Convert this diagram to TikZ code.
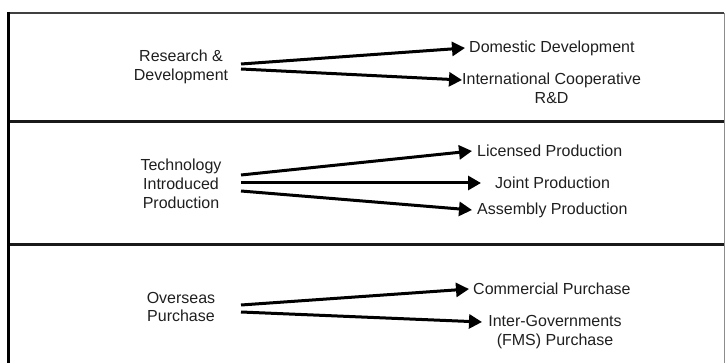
\documentclass[tikz,border=0pt]{standalone}
\usepackage{fontspec}
\setmainfont{Liberation Sans}
\usetikzlibrary{arrows.meta}
\begin{document}
\begin{tikzpicture}[x=1pt,y=-1pt,
  lbl/.style={font=\fontsize{16}{19}\selectfont, inner sep=0pt, align=center, text=black!88},
  rlbl/.style={lbl, anchor=west},
  flow/.style={line width=3pt, -{Triangle[length=13pt,width=14pt]}},
  sep/.style={line width=3pt, black!90}]
\useasboundingbox (0,0) rectangle (725,363);
% frame
\draw[line width=2.6pt, black!75] (7,13) -- (724,13);
\draw[line width=1pt, black!45] (724,13) -- (724,363);
\draw[sep] (7,122) -- (724,122);
\draw[sep] (7,245) -- (724,245);
\draw[line width=3.6pt, black] (8.5,12) -- (8.5,363);

% ---- Section 1
\node[lbl] (rd) at (181,67) {Research \&\\Development};
\coordinate (rdA) at (241,64);
\coordinate (rdB) at (241,69);
\coordinate (tDom) at (465,48);
\coordinate (tInt) at (462,80);
\node[rlbl] (dom) at (469,48) {Domestic Development};
\node[lbl, anchor=north west] (int) at (462,73) {International Cooperative\\R\&D};
\draw[flow] (rdA) -- (tDom);
\draw[flow] (rdB) -- (tInt);

% ---- Section 2
\node[lbl] (tip) at (181,184) {Technology\\Introduced\\Production};
\coordinate (tpA) at (241,175);
\coordinate (tpB) at (241,183);
\coordinate (tpC) at (241,191);
\coordinate (tLic) at (472,151);
\coordinate (tJoi) at (481,183);
\coordinate (tAss) at (472,210);
\node[rlbl] (lic) at (477,151) {Licensed Production};
\node[rlbl] (joi) at (495,183) {Joint Production};
\node[rlbl] (ass) at (477,210) {Assembly Production};
\draw[flow] (tpA) -- (tLic);
\draw[flow] (tpB) -- (tJoi);
\draw[flow] (tpC) -- (tAss);

% ---- Section 3
\node[lbl, font=\fontsize{16}{17.5}\selectfont] (op) at (181,307) {Overseas\\Purchase};
\coordinate (opA) at (241,305);
\coordinate (opB) at (241,312);
\coordinate (tCom) at (469,289);
\coordinate (tIgv) at (482,322);
\node[rlbl] (com) at (473,289) {Commercial Purchase};
\node[lbl, anchor=north] (igv) at (555,315) {Inter-Governments\\(FMS) Purchase};
\draw[flow] (opA) -- (tCom);
\draw[flow] (opB) -- (tIgv);
\end{tikzpicture}
\end{document}
